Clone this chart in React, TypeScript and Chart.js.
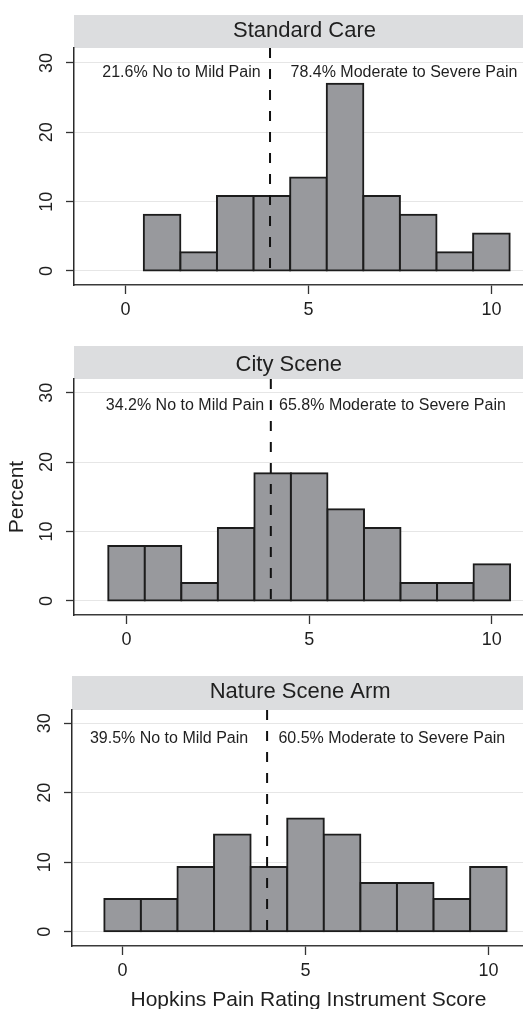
import React, { useEffect, useRef } from "react";
import { Chart, registerables } from "chart.js";

Chart.register(...registerables);

// ---- data ----
const bins = [0, 1, 2, 3, 4, 5, 6, 7, 8, 9, 10];
const panelTitles = ["Standard Care", "City Scene", "Nature Scene Arm"];
const standardCare = [0, 8.1, 2.7, 10.8, 10.8, 13.5, 27.0, 10.8, 8.1, 2.7, 5.4];
const cityScene = [7.9, 7.9, 2.6, 10.5, 18.4, 18.4, 13.2, 10.5, 2.6, 2.6, 5.3];
const natureScene = [4.7, 4.7, 9.3, 14.0, 9.3, 16.3, 14.0, 7.0, 7.0, 4.7, 9.3];
const leftLabels = ["21.6% No to Mild Pain", "34.2% No to Mild Pain", "39.5% No to Mild Pain"];
const rightLabels = [
  "78.4% Moderate to Severe Pain",
  "65.8% Moderate to Severe Pain",
  "60.5% Moderate to Severe Pain",
];
const xTicks = [0, 5, 10];
const yTicks = [0, 10, 20, 30];
const cutoff = 3.95;
const yAxisTitle = "Percent";
const xAxisTitle = "Hopkins Pain Rating Instrument Score";

const seriesList = [standardCare, cityScene, natureScene];

// ---- layout (positions / sizes) ----
const FONT = "'Liberation Sans', Arial, Helvetica, sans-serif";
const TEXT = "#1f1f1f";

const layouts = [
  {
    top: 0, height: 330, width: 543, areaTop: 48, areaBottom: 285, areaLeft: 74,
    xMin: -1.407, xMax: 11.41, yMin: -2.02, yMax: 32.16,
    stripTop: 15, titleX: 304.5, titleBase: 37,
    textY: 28.0, leftX: 1.53, rightX: 7.61, showY: false, showX: false,
  },
  {
    top: 330, height: 330, width: 543, areaTop: 49, areaBottom: 285, areaLeft: 74,
    xMin: -1.437, xMax: 11.4, yMin: -2.02, yMax: 31.97,
    stripTop: 16, titleX: 288.7, titleBase: 40.7,
    textY: 27.44, leftX: 1.6, rightX: 7.28, showY: true, showX: false,
  },
  {
    top: 660, height: 360, width: 545, areaTop: 50, areaBottom: 286, areaLeft: 72,
    xMin: -1.383, xMax: 11.547, yMin: -2.06, yMax: 31.91,
    stripTop: 16, titleX: 300.2, titleBase: 37.7,
    textY: 27.16, leftX: 1.27, rightX: 7.36, showY: false, showX: true,
  },
];

function makeChart(canvas: HTMLCanvasElement, idx: number) {
  const L = layouts[idx];
  const values = seriesList[idx];

  const panelPlugin = {
    id: "panelDecor" + idx,
    beforeDraw(chart: any) {
      const { ctx, chartArea } = chart;
      ctx.save();
      ctx.fillStyle = "#ffffff";
      ctx.fillRect(0, 0, chart.width, chart.height);
      ctx.fillStyle = "#dcdddf";
      ctx.fillRect(chartArea.left, L.stripTop, chartArea.right - chartArea.left, chartArea.top - L.stripTop);
      ctx.fillStyle = TEXT;
      ctx.font = `22px ${FONT}`;
      ctx.textAlign = "center";
      ctx.textBaseline = "alphabetic";
      ctx.fillText(panelTitles[idx], L.titleX, L.titleBase);
      ctx.restore();
    },
    afterDatasetsDraw(chart: any) {
      const { ctx, scales } = chart;
      const xs = scales.x;
      const ys = scales.y;
      ctx.save();
      // dashed cutoff line
      const px = xs.getPixelForValue(cutoff);
      ctx.strokeStyle = "#111111";
      ctx.lineWidth = 2;
      ctx.setLineDash([10, 11]);
      ctx.beginPath();
      ctx.moveTo(px, ys.getPixelForValue(L.yMax));
      ctx.lineTo(px, ys.getPixelForValue(0));
      ctx.stroke();
      ctx.setLineDash([]);
      // annotations
      ctx.fillStyle = TEXT;
      ctx.font = `16px ${FONT}`;
      ctx.textAlign = "center";
      ctx.textBaseline = "alphabetic";
      const ty = ys.getPixelForValue(L.textY);
      ctx.fillText(leftLabels[idx], xs.getPixelForValue(L.leftX), ty);
      ctx.fillText(rightLabels[idx], xs.getPixelForValue(L.rightX), ty);
      ctx.restore();
    },
  };

  return new Chart(canvas, {
    type: "bar",
    data: {
      datasets: [
        {
          label: panelTitles[idx],
          data: bins.map((b, i) => ({ x: b, y: values[i] > 0 ? values[i] : null })),
          backgroundColor: "#98999d",
          borderColor: "#1c1c1c",
          borderWidth: 2,
          borderSkipped: false,
          inflateAmount: 1,
          barPercentage: 1,
          categoryPercentage: 1,
        } as any,
      ],
    },
    options: {
      responsive: false,
      animation: false,
      devicePixelRatio: 1,
      layout: { padding: { top: L.areaTop, left: 0, right: 0, bottom: 0 } },
      plugins: {
        legend: { display: false },
        tooltip: { enabled: false },
        title: { display: false },
      },
      scales: {
        x: {
          type: "linear",
          position: "bottom",
          min: L.xMin,
          max: L.xMax,
          offset: false,
          afterBuildTicks: (s: any) => {
            s.ticks = xTicks.map((v) => ({ value: v }));
          },
          afterFit: (s: any) => {
            s.height = L.height - L.areaBottom;
          },
          grid: {
            display: true,
            drawOnChartArea: false,
            offset: false,
            drawTicks: true,
            tickLength: 9,
            tickColor: "#333333",
            tickWidth: 1.3,
            color: "#333333",
          },
          border: { display: true, color: "#3a3a3a", width: 1.5 },
          ticks: {
            padding: 5,
            maxRotation: 0,
            minRotation: 0,
            autoSkip: false,
            color: TEXT,
            font: { family: FONT, size: 18 },
          },
          title: {
            display: L.showX,
            text: xAxisTitle,
            color: TEXT,
            font: { family: FONT, size: 21 },
            padding: { top: 0, bottom: 7 },
          },
        },
        y: {
          type: "linear",
          position: "left",
          min: L.yMin,
          max: L.yMax,
          afterBuildTicks: (s: any) => {
            s.ticks = yTicks.map((v) => ({ value: v }));
          },
          afterFit: (s: any) => {
            s.width = L.areaLeft;
          },
          grid: {
            display: true,
            drawOnChartArea: true,
            drawTicks: true,
            tickLength: 8,
            tickColor: "#333333",
            tickWidth: 1.3,
            color: "#e6e6e6",
            lineWidth: 1,
          },
          border: { display: true, color: "#2a2a2a", width: 1.5 },
          ticks: {
            minRotation: 90,
            maxRotation: 90,
            crossAlign: "center",
            padding: 8.5,
            autoSkip: false,
            color: TEXT,
            font: { family: FONT, size: 18 },
          },
          title: {
            display: L.showY,
            text: yAxisTitle,
            color: TEXT,
            font: { family: FONT, size: 21 },
            padding: { top: 5, bottom: 0 },
          },
        },
      },
    } as any,
    plugins: [panelPlugin],
  });
}

export default function App() {
  const refs = [
    useRef<HTMLCanvasElement>(null),
    useRef<HTMLCanvasElement>(null),
    useRef<HTMLCanvasElement>(null),
  ];

  useEffect(() => {
    Chart.defaults.font.family = FONT;
    const charts = refs.map((r, i) => (r.current ? makeChart(r.current, i) : null));
    return () => {
      charts.forEach((c) => c && c.destroy());
    };
  }, []);

  return (
    <div
      style={{
        position: "absolute",
        left: 0,
        top: 0,
        width: 523,
        height: 1009,
        overflow: "hidden",
        background: "#ffffff",
      }}
    >
      {layouts.map((L, i) => (
        <canvas
          key={i}
          ref={refs[i]}
          width={L.width}
          height={L.height}
          style={{
            position: "absolute",
            left: 0,
            top: L.top,
            width: L.width,
            height: L.height,
            display: "block",
          }}
        />
      ))}
    </div>
  );
}
